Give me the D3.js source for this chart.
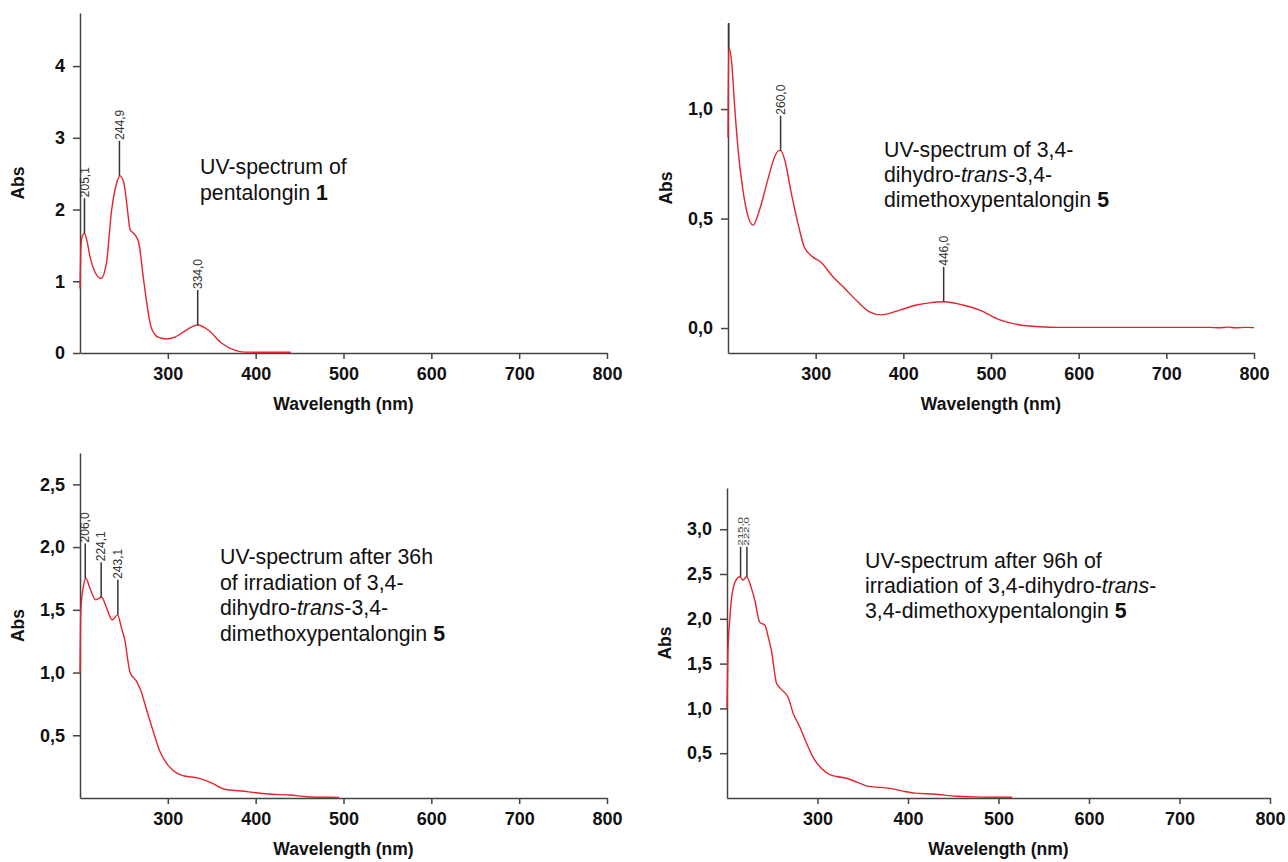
<!DOCTYPE html>
<html>
<head>
<meta charset="utf-8">
<script src="https://cdn.jsdelivr.net/npm/d3@7"></script>
<style>
  body { margin: 0; background: #fff; }
  svg { font-family: "Liberation Sans", Arial, sans-serif; }
  .axis path, .axis line { stroke: #444; stroke-width: 1.5; }
  .axis text { font-size: 18px; font-weight: bold; fill: #111; }
  .spec { fill: none; stroke: #e4242b; stroke-width: 1.4; }
  .mark { stroke: #333; stroke-width: 1.5; }
  .plab { font-size: 12px; fill: #333; }
  .note { font-size: 21.3px; fill: #111; }
  .ttl { font-size: 17.5px; font-weight: bold; fill: #111; }
</style>
</head>
<body>
<svg width="1288" height="862"></svg>
<script>
// UV spectra, wavelength (nm) vs absorbance
var wl1  = [200, 200.8, 202, 205, 208, 211.4, 217, 224, 230, 236, 241.7, 245.5, 250, 254, 257, 262.5, 267, 272, 276, 281, 289, 298.5, 308, 321, 334, 346, 361, 376, 387.5, 400, 420, 440];
var abs1 = [0.9, 1.4, 1.6, 1.67, 1.56, 1.34, 1.13, 1.04, 1.25, 1.99, 2.37, 2.47, 2.37, 2.0, 1.72, 1.65, 1.53, 1.06, 0.70, 0.36, 0.22, 0.195, 0.22, 0.32, 0.39, 0.32, 0.14, 0.04, 0.012, 0.01, 0.01, 0.01];
var pk1    = [205.1, 244.9, 334.0];
var pkAbs1 = [1.67, 2.47, 0.39];
var pkLbl1 = ["205,1", "244,9", "334,0"];

var wl2  = [200, 200.8, 204, 207.8, 211.6, 217, 222.9, 228.6, 236, 245.6, 253, 258, 260, 264.6, 272, 279.7, 287, 296.7, 306, 319.5, 334.6, 348, 362, 375, 396, 415, 430, 446, 468, 487, 510, 533, 556, 575, 600, 650, 700, 750, 760, 770, 780, 790, 800];
var abs2 = [0.87, 1.28, 1.22, 1.0, 0.81, 0.63, 0.51, 0.47, 0.54, 0.68, 0.78, 0.81, 0.81, 0.77, 0.62, 0.48, 0.37, 0.325, 0.30, 0.235, 0.175, 0.12, 0.073, 0.06, 0.082, 0.105, 0.115, 0.12, 0.105, 0.082, 0.037, 0.014, 0.006, 0.003, 0.003, 0.003, 0.003, 0.003, 0.001, 0.004, 0.001, 0.003, 0.002];
var pk2    = [200.8, 260.0, 446.0];
var pkAbs2 = [1.28, 0.81, 0.12];
var pkLbl2 = ["", "260,0", "446,0"];

var wl3  = [200, 201, 203.7, 206.8, 211.4, 217.8, 224.6, 230, 236.7, 242.8, 247, 251, 257, 264.4, 269, 276, 283, 291, 300.3, 309.8, 319, 334, 349.6, 364.8, 383.7, 402.6, 418, 439, 458, 475, 495];
var abs3 = [1.0, 1.5, 1.68, 1.75, 1.67, 1.58, 1.60, 1.52, 1.42, 1.46, 1.36, 1.26, 1.0, 0.93, 0.86, 0.70, 0.54, 0.37, 0.26, 0.20, 0.175, 0.16, 0.12, 0.07, 0.056, 0.04, 0.03, 0.024, 0.01, 0.006, 0.005];
var pk3    = [206.0, 224.1, 243.1];
var pkAbs3 = [1.75, 1.60, 1.46];
var pkLbl3 = ["206,0", "224,1", "243,1"];

var wl4  = [200, 201, 203, 204.8, 208.5, 214, 217.8, 221.5, 227, 230.7, 236.2, 241.8, 245.5, 249, 254.8, 260.3, 267.7, 273, 280.6, 288, 295.3, 304.5, 313.7, 321, 332, 343, 356, 378, 393, 407.5, 428, 454, 480, 515];
var abs4 = [1.0, 1.62, 1.99, 2.21, 2.40, 2.47, 2.43, 2.47, 2.34, 2.21, 1.96, 1.93, 1.80, 1.65, 1.28, 1.21, 1.12, 0.95, 0.79, 0.61, 0.45, 0.33, 0.26, 0.24, 0.22, 0.18, 0.13, 0.11, 0.08, 0.055, 0.044, 0.02, 0.01, 0.008];
var pk4    = [215.0, 222.0];
var pkAbs4 = [2.47, 2.47];
var pkLbl4 = ["215,0", "222,0"];

var xTicks = [300, 400, 500, 600, 700, 800];
var yTicks1 = [0, 1, 2, 3, 4];
var yTicks2 = [0, 0.5, 1.0];
var yTicks3 = [0.5, 1.0, 1.5, 2.0, 2.5];
var yTicks4 = [0.5, 1.0, 1.5, 2.0, 2.5, 3.0];

// caption lines: [text, style] with style "" / "i" / "b"
var note1 = [[["UV-spectrum of", ""]], [["pentalongin ", ""], ["1", "b"]]];
var note2 = [[["UV-spectrum of 3,4-", ""]], [["dihydro-", ""], ["trans", "i"], ["-3,4-", ""]], [["dimethoxypentalongin ", ""], ["5", "b"]]];
var note3 = [[["UV-spectrum after 36h", ""]], [["of irradiation of 3,4-", ""]], [["dihydro-", ""], ["trans", "i"], ["-3,4-", ""]], [["dimethoxypentalongin ", ""], ["5", "b"]]];
var note4 = [[["UV-spectrum after 96h of", ""]], [["irradiation of 3,4-dihydro-", ""], ["trans", "i"], ["-", ""]], [["3,4-dimethoxypentalongin ", ""], ["5", "b"]]];

var comma = d3.formatLocale({decimal: ",", thousands: ".", grouping: [3], currency: ["", ""]});

var panels = [
  {wl: wl1, ab: abs1, pk: pk1, pa: pkAbs1, pl: pkLbl1, yt: yTicks1, fmt: comma.format("d"),
   x0: 80, x1: 607, yTop: 13, yBot: 353, yDom: [0, 4.74], note: note1, nx: 200, ny: 174, ls: 26},
  {wl: wl2, ab: abs2, pk: pk2, pa: pkAbs2, pl: pkLbl2, yt: yTicks2, fmt: comma.format(".1f"),
   x0: 728, x1: 1254, yTop: 23, yBot: 353, yDom: [-0.114, 1.393], note: note2, nx: 884, ny: 157, ls: 25},
  {wl: wl3, ab: abs3, pk: pk3, pa: pkAbs3, pl: pkLbl3, yt: yTicks3, fmt: comma.format(".1f"),
   x0: 80, x1: 607, yTop: 453, yBot: 798, yDom: [0, 2.75], note: note3, nx: 220, ny: 564, ls: 25.5},
  {wl: wl4, ab: abs4, pk: pk4, pa: pkAbs4, pl: pkLbl4, yt: yTicks4, fmt: comma.format(".1f"),
   x0: 727, x1: 1270, yTop: 488, yBot: 798, yDom: [0, 3.46], note: note4, nx: 865, ny: 568, ls: 25, narrow: true}
];

var svg = d3.select("svg");

panels.forEach(function(p) {
  var x = d3.scaleLinear().domain([200, 800]).range([p.x0, p.x1]),
      y = d3.scaleLinear().domain(p.yDom).range([p.yBot, p.yTop]);

  var g = svg.append("g");

  g.append("g")
      .attr("class", "axis")
      .attr("transform", "translate(0," + p.yBot + ")")
      .call(d3.axisBottom(x).tickValues(xTicks).tickFormat(d3.format("d")).tickSize(6).tickSizeOuter(0).tickPadding(8));

  g.append("g")
      .attr("class", "axis")
      .attr("transform", "translate(" + p.x0 + ",0)")
      .call(d3.axisLeft(y).tickValues(p.yt).tickFormat(p.fmt).tickSize(7).tickSizeOuter(0).tickPadding(8));

  g.selectAll(".axis .domain").attr("fill", "none");

  var line = d3.line()
      .curve(d3.curveMonotoneX)
      .x(function(d) { return x(d[0]); })
      .y(function(d) { return y(d[1]); });

  g.append("path")
      .attr("class", "spec")
      .attr("d", line(d3.zip(p.wl, p.ab)));

  // peak markers
  var pks = p.pk.map(function(w, i) { return {w: w, a: p.pa[i], t: p.pl[i]}; });
  var m = g.selectAll(".pk").data(pks).enter().append("g").attr("class", "pk");
  m.append("line")
      .attr("class", "mark")
      .attr("x1", function(d) { return x(d.w); })
      .attr("x2", function(d) { return x(d.w); })
      .attr("y1", function(d) { return y(d.a); })
      .attr("y2", function(d) { return Math.max(y(d.a) - (p.narrow ? 30 : 35), p.yTop); });
  m.append("text")
      .attr("class", "plab")
      .attr("transform", function(d) {
        var t = "translate(" + x(d.w) + "," + (y(d.a) - (p.narrow ? 31 : 36)) + ") rotate(-90)";
        return p.narrow ? t + " scale(1.35,0.8)" : t;
      })
      .attr("dy", "0.35em")
      .style("font-size", p.narrow ? "8.5px" : null)
      .text(function(d) { return d.t; });

  // axis titles
  g.append("text")
      .attr("class", "ttl")
      .attr("text-anchor", "middle")
      .attr("x", (p.x0 + p.x1) / 2)
      .attr("y", p.yBot + 57)
      .text("Wavelength (nm)");

  g.append("text")
      .attr("class", "ttl")
      .attr("text-anchor", "middle")
      .attr("transform", "translate(" + (p.x0 - 56) + "," + ((p.yTop + p.yBot) / 2) + ") rotate(-90)")
      .text("Abs");

  // caption
  var note = g.append("text").attr("class", "note");
  p.note.forEach(function(ln, i) {
    ln.forEach(function(seg, j) {
      var ts = note.append("tspan").text(seg[0]);
      if (j === 0) ts.attr("x", p.nx).attr("y", p.ny + i * p.ls);
      if (seg[1] === "i") ts.style("font-style", "italic");
      if (seg[1] === "b") ts.style("font-weight", "bold");
    });
  });
});
</script>
</body>
</html>
